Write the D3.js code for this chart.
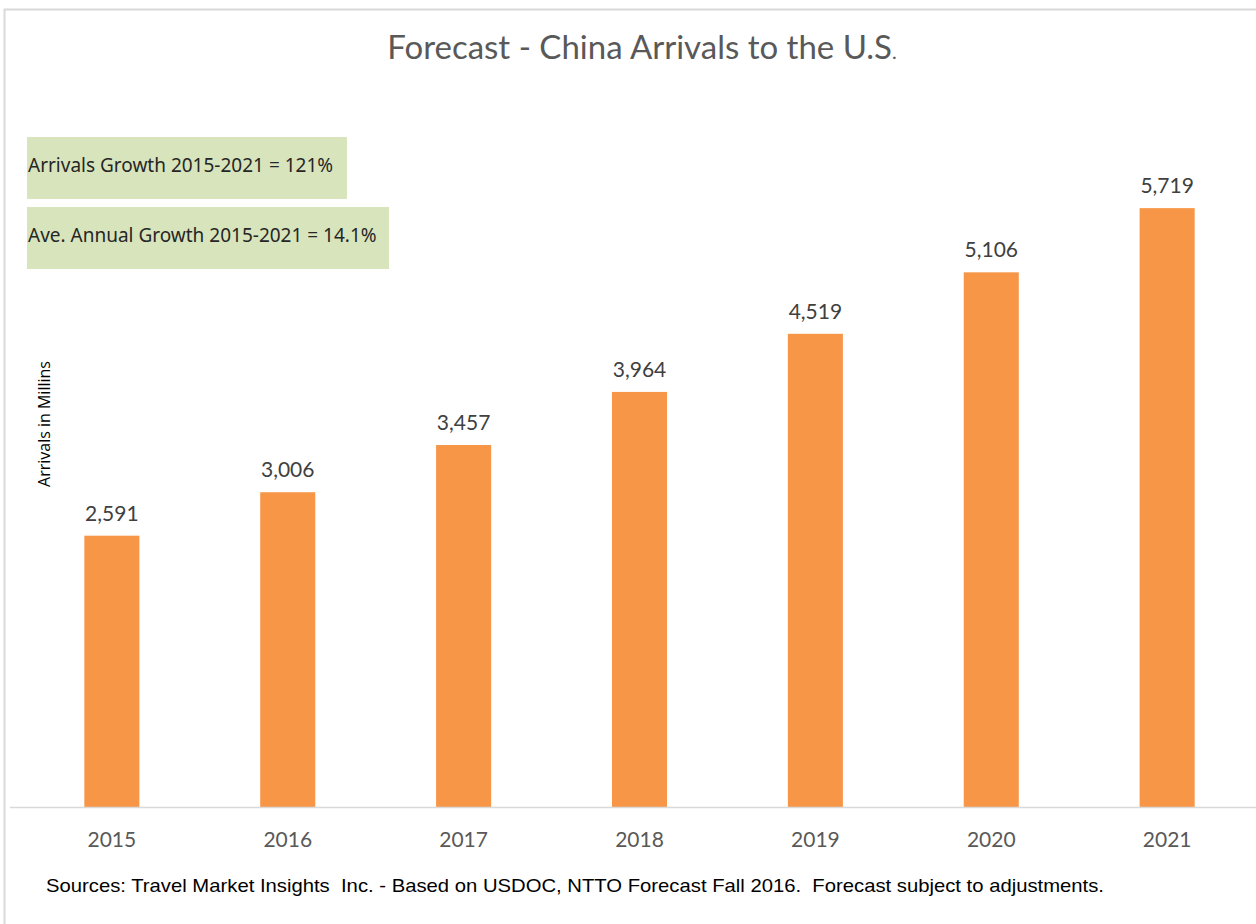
<!DOCTYPE html>
<html>
<head>
<meta charset="utf-8">
<script src="https://cdn.jsdelivr.net/npm/d3@7"></script>
<style>
  body { margin: 0; background: #fff; }
  svg { display: block; }
  text { white-space: pre; }
</style>
</head>
<body>
<svg id="chart" width="1256" height="924"></svg>
<script>
'use strict'

// chart data
const years = ['2015', '2016', '2017', '2018', '2019', '2020', '2021']
const arrivals = [2591, 3006, 3457, 3964, 4519, 5106, 5719]
const notes = ['Arrivals Growth 2015-2021 = 121%', 'Ave. Annual Growth 2015-2021 = 14.1%']

const title = 'Forecast - China Arrivals to the U.S'
const yLabel = 'Arrivals in Millins'
const source = 'Sources: Travel Market Insights  Inc. - Based on USDOC, NTTO Forecast Fall 2016.  Forecast subject to adjustments.'

const svg = d3.select('#chart')
const bodyFont = 'Lato, "Open Sans", sans-serif'

// frame
svg.append('path')
	.attr('d', 'M4.5,924 V9.5 H1256')
	.attr('fill', 'none')
	.attr('stroke', '#d9d9d9')
	.attr('stroke-width', 2)

const x = d3.scaleBand().domain(years).range([24, 1255]).paddingInner(0.687).paddingOuter(0.343)
const y = d3.scaleLinear().domain([0, 7000]).range([807, 74])

// title
const t = svg.append('text')
	.attr('x', 642)
	.attr('y', 59)
	.attr('text-anchor', 'middle')
	.style('font-family', bodyFont)
	.style('font-size', '33px')
	.attr('fill', '#595959')
	.text(title)
t.append('tspan').style('font-size', '20px').text('.')

// growth notes
const boxes = [{x: 27, y: 137, w: 320, h: 62}, {x: 27, y: 207, w: 362, h: 62}]
boxes.forEach((b, i) => {
	svg.append('rect')
		.attr('x', b.x).attr('y', b.y)
		.attr('width', b.w).attr('height', b.h)
		.attr('fill', '#d8e4bc')
	svg.append('text')
		.attr('x', b.x + 1)
		.attr('y', b.y + 35)
		.style('font-family', '"Noto Sans", sans-serif')
		.style('font-size', '19px')
		.attr('fill', '#262626')
		.text(notes[i])
})

// bars
svg.selectAll('.bar')
	.data(years)
	.enter().append('rect')
	.attr('class', 'bar')
	.attr('x', d => x(d))
	.attr('y', (d, i) => y(arrivals[i]))
	.attr('width', x.bandwidth())
	.attr('height', (d, i) => y(0) - y(arrivals[i]))
	.attr('fill', '#f79646')

// value labels
svg.selectAll('.val')
	.data(years)
	.enter().append('text')
	.attr('class', 'val')
	.attr('x', d => x(d) + x.bandwidth() / 2)
	.attr('y', (d, i) => y(arrivals[i]) - 15)
	.attr('text-anchor', 'middle')
	.style('font-family', bodyFont)
	.style('font-size', '21px')
	.attr('fill', '#404040')
	.text((d, i) => d3.format(',')(arrivals[i]))

// x axis
const xAxis = svg.append('g')
	.attr('transform', 'translate(0,' + y(0) + ')')
	.call(d3.axisBottom(x).tickSize(0).tickPadding(25))
xAxis.select('.domain')
	.attr('d', 'M10,0.5H1256')
	.attr('stroke', '#d9d9d9')
	.attr('stroke-width', 1.5)
xAxis.selectAll('text')
	.style('font-family', bodyFont)
	.style('font-size', '21px')
	.attr('fill', '#595959')

// y axis title
svg.append('text')
	.attr('transform', 'translate(50,424) rotate(-90)')
	.attr('text-anchor', 'middle')
	.style('font-family', '"Open Sans", sans-serif')
	.style('font-size', '16px')
	.attr('fill', '#000')
	.text(yLabel)

// source
svg.append('text')
	.attr('x', 46)
	.attr('y', 892)
	.attr('textLength', 1058)
	.attr('lengthAdjust', 'spacingAndGlyphs')
	.style('font-family', '"Liberation Sans", Arial, sans-serif')
	.style('font-size', '19px')
	.attr('fill', '#000')
	.text(source)
</script>
</body>
</html>
